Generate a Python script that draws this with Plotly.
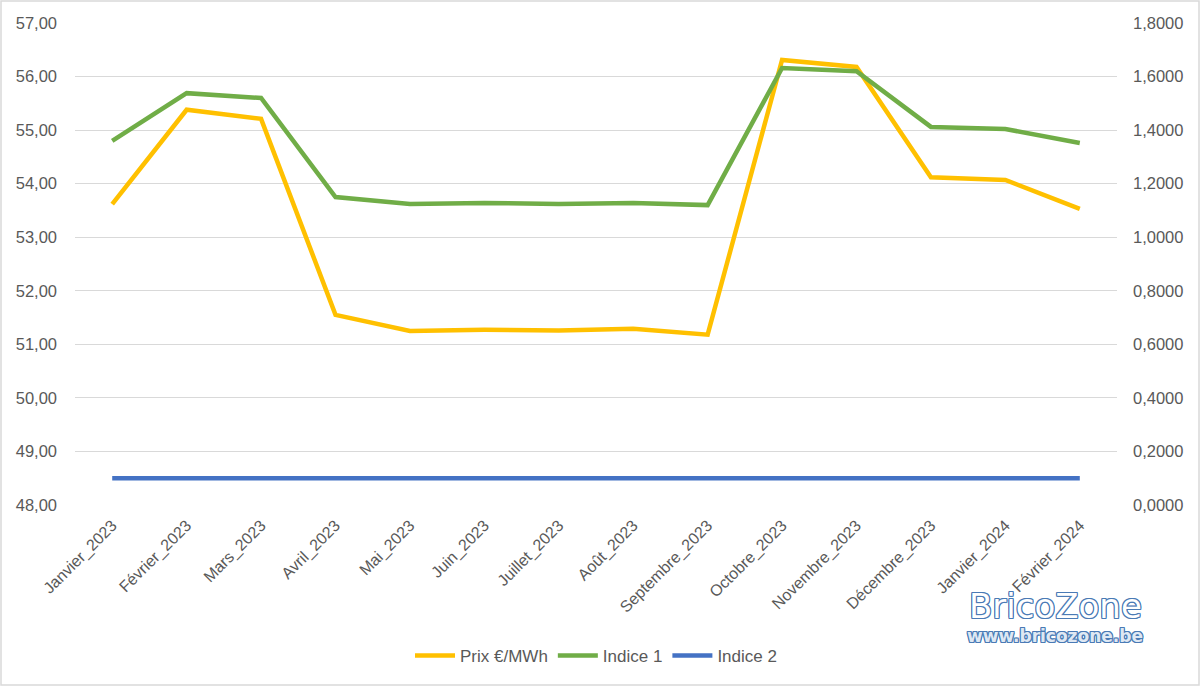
import plotly.graph_objects as go

categories = ["Janvier_2023", "Février_2023", "Mars_2023", "Avril_2023", "Mai_2023",
              "Juin_2023", "Juillet_2023", "Août_2023", "Septembre_2023", "Octobre_2023",
              "Novembre_2023", "Décembre_2023", "Janvier_2024", "Février_2024"]
prix = [53.62, 55.38, 55.21, 51.55, 51.25, 51.27, 51.26, 51.29, 51.18, 56.31, 56.18, 54.12, 54.07, 53.53]
indice1 = [1.360, 1.538, 1.520, 1.150, 1.124, 1.128, 1.124, 1.128, 1.120, 1.632, 1.620, 1.412, 1.404, 1.352]
indice2 = [0.1] * 14

W, H = 1200, 686
L, R, T, B = 75, 83, 23, 181
pw, ph = W - L - R, H - T - B

FAM = "Liberation Sans, Arial, sans-serif"
GREY = "#595959"

fig = go.Figure()
fig.add_trace(go.Scatter(x=categories, y=prix, name="Prix €/MWh", mode="lines",
                         line=dict(color="#FFC000", width=4.5)))
fig.add_trace(go.Scatter(x=categories, y=indice1, name="Indice 1", mode="lines",
                         line=dict(color="#70AD47", width=4.5), yaxis="y2"))
fig.add_trace(go.Scatter(x=categories, y=indice2, name="Indice 2", mode="lines",
                         line=dict(color="#4472C4", width=4.5), yaxis="y2"))

fig.update_layout(
    width=W, height=H,
    margin=dict(l=L, r=R, t=T, b=B),
    paper_bgcolor="white", plot_bgcolor="white",
    separators=", ",
    font=dict(family=FAM, size=16, color=GREY),
    showlegend=True,
    legend=dict(orientation="h", x=0.5, xanchor="center", y=(H - B - 656) / ph, yanchor="middle",
                font=dict(family=FAM, size=17, color=GREY),
                itemwidth=40, tracegroupgap=0),
    xaxis=dict(tickangle=-45, showgrid=False, showline=False, ticks="",
               ticklabelstandoff=7,
               tickfont=dict(family=FAM, size=16, color=GREY), range=[-0.5, 13.5]),
    yaxis=dict(range=[48, 57], dtick=1, tickformat=".2f", showgrid=True, gridcolor="#d9d9d9",
               gridwidth=1, zeroline=False, showline=False, ticks="",
               ticklabelstandoff=17,
               tickfont=dict(family=FAM, size=16.5, color=GREY)),
    yaxis2=dict(range=[0, 1.8], dtick=0.2, tickformat=".4f", overlaying="y", side="right",
                showgrid=False, zeroline=False, showline=False, ticks="",
                ticklabelstandoff=15,
                tickfont=dict(family=FAM, size=16.5, color=GREY)),
)

# outer border
fig.add_shape(type="rect", xref="paper", yref="paper",
              x0=(-L + 1) / pw, x1=(pw + R - 1) / pw, y0=(-B + 1) / ph, y1=(ph + T - 1) / ph,
              line=dict(color="#d9d9d9", width=1.5), fillcolor="rgba(0,0,0,0)", layer="below")

outline = ("1px 0 0 #4a7ab5, -1px 0 0 #4a7ab5, 0 1px 0 #4a7ab5, 0 -1px 0 #4a7ab5,"
           "1px 1px 0 #4a7ab5, -1px -1px 0 #4a7ab5, 1px -1px 0 #4a7ab5, -1px 1px 0 #4a7ab5")
fig.add_annotation(text="BricoZone", xref="paper", yref="paper",
                   x=(1055 - L) / pw, y=(H - B - 606) / ph, xanchor="center", yanchor="middle",
                   showarrow=False,
                   font=dict(family="DejaVu Sans, sans-serif", size=34, color="white", shadow=outline))
fig.add_annotation(text="<b>www.bricozone.be</b>", xref="paper", yref="paper",
                   x=(1055 - L) / pw, y=(H - B - 636) / ph, xanchor="center", yanchor="middle",
                   showarrow=False,
                   font=dict(family="DejaVu Sans, sans-serif", size=17, color="#dfe8f3", shadow=outline))

fig.write_html("out.html")
